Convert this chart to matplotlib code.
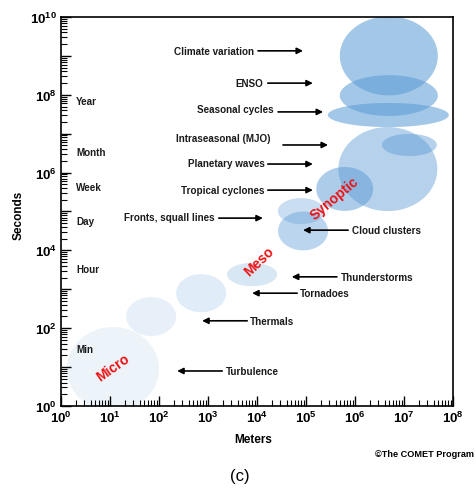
import numpy as np
import matplotlib
matplotlib.use("Agg")
import matplotlib.pyplot as plt
from matplotlib.ticker import LogLocator, FixedLocator, FixedFormatter, NullFormatter

plt.rcParams["font.family"] = ["Liberation Sans", "DejaVu Sans"]
plt.rcParams["mathtext.fontset"] = "custom"
plt.rcParams["mathtext.rm"] = "Liberation Sans:bold"
plt.rcParams["mathtext.bf"] = "Liberation Sans:bold"

# Phenomena scale regions: centre and full extent in decades (log10 m, log10 s)
region_cx = [1.06, 1.84, 2.86, 3.90, 4.94, 4.90, 5.79, 6.67, 7.11, 6.68, 6.69, 6.69]
region_cy = [0.95, 2.30, 2.90, 3.38, 4.50, 5.01, 5.58, 6.09, 6.71, 7.48, 7.98, 9.00]
region_w = [1.88, 1.02, 1.02, 1.02, 1.02, 0.95, 1.16, 2.02, 1.12, 2.47, 2.00, 2.00]
region_h = [2.16, 1.00, 0.98, 0.60, 1.00, 0.67, 1.13, 2.16, 0.57, 0.62, 1.05, 2.03]
region_alpha = [0.11, 0.14, 0.19, 0.24, 0.42, 0.32, 0.50, 0.45, 0.45, 0.56, 0.56, 0.56]

# Labels pointing right (text on the left of the arrow)
right_labels = ["Climate variation", "ENSO", "Seasonal cycles", "Intraseasonal (MJO)",
                "Planetary waves", "Tropical cyclones", "Fronts, squall lines"]
right_text_x = [3.94, 4.12, 4.33, 4.27, 4.16, 4.16, 3.14]
right_text_y = [9.13, 8.30, 7.63, 6.89, 6.25, 5.55, 4.85]
right_arrow_x0 = [4.02, 4.22, 4.43, 4.53, 4.22, 4.22, 3.22]
right_arrow_x1 = [4.94, 5.14, 5.35, 5.45, 5.14, 5.14, 4.12]
right_arrow_y = [9.13, 8.30, 7.56, 6.71, 6.22, 5.55, 4.83]

# Labels pointing left (text on the right of the arrow)
left_labels = ["Cloud clusters", "Thunderstorms", "Tornadoes", "Thermals", "Turbulence"]
left_arrow_x0 = [5.86, 5.63, 4.82, 3.80, 3.29]
left_arrow_x1 = [4.94, 4.71, 3.90, 2.88, 2.37]
left_arrow_y = [4.52, 3.32, 2.90, 2.19, 0.90]
left_text_x = [5.94, 5.71, 4.88, 3.86, 3.37]

# Time references along the seconds axis
time_labels = ["Year", "Month", "Week", "Day", "Hour", "Min"]
time_y = [7.84, 6.53, 5.63, 4.76, 3.52, 1.47]

# Scale names
scale_names = ["Micro", "Meso", "Synoptic"]
scale_x = [1.06, 4.04, 5.59]
scale_y = [1.00, 3.73, 5.35]
scale_rot = [35, 44, 40]

x_decades = list(range(0, 9))
y_decades = list(range(0, 11))

fig = plt.figure(figsize=(4.77, 4.89), dpi=100)
ax = fig.add_axes([0.1279, 0.1677, 0.8218, 0.7955])
ax.set_xscale("log")
ax.set_yscale("log")
ax.set_xlim(1, 1e8)
ax.set_ylim(1, 1e10)

blue = "#5b9bd5"
t = np.linspace(0, 2 * np.pi, 300)
for cx, cy, w, h, a in zip(region_cx, region_cy, region_w, region_h, region_alpha):
    xs = 10 ** (cx + 0.5 * w * np.cos(t))
    ys = 10 ** (cy + 0.5 * h * np.sin(t))
    ax.fill(xs, ys, color=blue, alpha=a, lw=0, zorder=1)

fs = 7.1
arrow_kw = dict(arrowstyle="-|>", color="black", lw=1.2, mutation_scale=9,
                shrinkA=0, shrinkB=0)
for lab, tx, ty, x0, x1, ay in zip(right_labels, right_text_x, right_text_y,
                                    right_arrow_x0, right_arrow_x1, right_arrow_y):
    ax.text(10 ** tx, 10 ** ty, lab, ha="right", va="center", fontsize=fs,
            fontweight="bold", color="#1a1a1a", zorder=3)
    ax.annotate("", xy=(10 ** x1, 10 ** ay), xytext=(10 ** x0, 10 ** ay),
                arrowprops=arrow_kw, zorder=3)

for lab, tx, x0, x1, ay in zip(left_labels, left_text_x, left_arrow_x0,
                                left_arrow_x1, left_arrow_y):
    ax.text(10 ** tx, 10 ** ay, lab, ha="left", va="center", fontsize=fs,
            fontweight="bold", color="#1a1a1a", zorder=3)
    ax.annotate("", xy=(10 ** x1, 10 ** ay), xytext=(10 ** x0, 10 ** ay),
                arrowprops=arrow_kw, zorder=3)

for lab, ty in zip(time_labels, time_y):
    ax.text(10 ** 0.31, 10 ** ty, lab, ha="left", va="center", fontsize=fs,
            fontweight="bold", color="#1a1a1a", zorder=3)

for lab, sx, sy, rot in zip(scale_names, scale_x, scale_y, scale_rot):
    ax.text(10 ** sx, 10 ** sy, lab, ha="center", va="center", fontsize=10,
            fontweight="bold", color="#ee1111", rotation=rot, zorder=4)

# Axes, ticks and tick labels
ax.xaxis.set_major_locator(FixedLocator([10.0 ** d for d in x_decades]))
ax.xaxis.set_major_formatter(FixedFormatter([r"$\mathbf{10^{%d}}$" % d for d in x_decades]))
ax.yaxis.set_major_locator(FixedLocator([10.0 ** d for d in y_decades]))
ax.yaxis.set_major_formatter(FixedFormatter(
    [r"$\mathbf{10^{%d}}$" % d if d % 2 == 0 else "" for d in y_decades]))
ax.xaxis.set_minor_locator(LogLocator(base=10, subs=np.arange(2, 10), numticks=50))
ax.yaxis.set_minor_locator(LogLocator(base=10, subs=np.arange(2, 10), numticks=50))
ax.xaxis.set_minor_formatter(NullFormatter())
ax.yaxis.set_minor_formatter(NullFormatter())
ax.tick_params(which="major", direction="in", length=7, width=1.0, labelsize=9.5, pad=3,
               top=False, right=False)
ax.tick_params(which="minor", direction="in", length=4, width=0.8, top=False, right=False)
for sp in ax.spines.values():
    sp.set_linewidth(1.2)

fig.text(19 / 477, 1 - 215 / 489, "Seconds", rotation=90, ha="center", va="center",
         fontsize=8.5, fontweight="bold")
fig.text(253 / 477, 1 - 440 / 489, "Meters", ha="center", va="center",
         fontsize=8.5, fontweight="bold")
fig.text(474 / 477, 1 - 455 / 489, "\u00a9The COMET Program", ha="right", va="center",
         fontsize=6.6, fontweight="bold")
fig.text(240 / 477, 1 - 477 / 489, "(c)", ha="center", va="center", fontsize=12)

fig.savefig("out.png", dpi=100)
